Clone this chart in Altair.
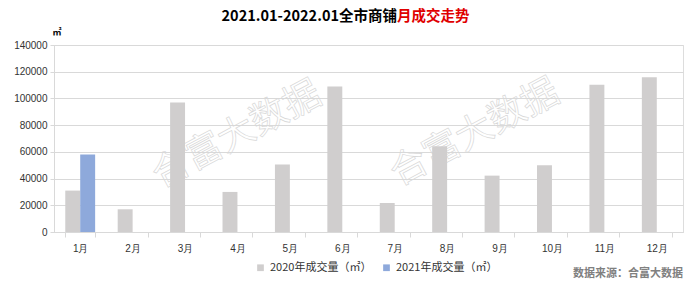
import altair as alt
import pandas as pd

months = ["1月", "2月", "3月", "4月", "5月", "6月", "7月", "8月", "9月", "10月", "11月", "12月"]
series_names = ["2020年成交量（㎡）", "2021年成交量（㎡）"]
values_2020 = [31000, 17000, 97000, 30000, 50500, 109000, 21700, 64200, 42200, 49900, 110300, 115800]
values_2021 = [58000]  # only January available
y_ticks = [0, 20000, 40000, 60000, 80000, 100000, 120000, 140000]

title_black = "2021.01-2022.01全市商铺"
title_red = "月成交走势"
unit_label = "㎡"
source_text = "数据来源：合富大数据"
watermark = "合富大数据"

rows = []
for m, v in zip(months, values_2020):
    rows.append({"month": m, "series": series_names[0], "value": v})
for m, v in zip(months, values_2021):
    rows.append({"month": m, "series": series_names[1], "value": v})
df = pd.DataFrame(rows)

FONT = "Noto Sans CJK SC"
W, H = 629, 187

bars = alt.Chart(df).mark_bar().encode(
    x=alt.X("month:N", sort=months,
            scale=alt.Scale(paddingInner=0.43, paddingOuter=0.215),
            axis=alt.Axis(title=None, labelAngle=0, tickBand="extent", tickSize=5,
                          tickColor="#D9D9D9", domainColor="#D9D9D9", labelPadding=6,
                          labelFontSize=10, labelColor="#333333", grid=False)),
    xOffset=alt.XOffset("series:N", scale=alt.Scale(domain=series_names)),
    y=alt.Y("value:Q", scale=alt.Scale(domain=[0, 140000], nice=False),
            axis=alt.Axis(title=None, values=y_ticks, format="d", grid=True,
                          gridColor="#D9D9D9", domainColor="#D9D9D9", tickColor="#D9D9D9",
                          tickSize=4, labelPadding=3, labelFontSize=10, labelColor="#333333")),
    color=alt.Color("series:N", scale=alt.Scale(domain=series_names, range=["#D0CECE", "#8EA9DB"]),
                    legend=alt.Legend(title=None, orient="none", direction="horizontal",
                                      legendX=201, legendY=217, symbolType="square",
                                      symbolSize=45, symbolStrokeWidth=0,
                                      labelFontSize=11, labelColor="#333333",
                                      columnPadding=9, labelFont=FONT)),
)

one = pd.DataFrame({"k": [0]})

def txt(text, x, y, **kw):
    return alt.Chart(one).mark_text(text=text, font=FONT, **kw).encode(
        x=alt.value(x), y=alt.value(y))

wm1 = txt(watermark, 183, 90, fontSize=37, angle=332, fill="white", fillOpacity=0,
          stroke="#D8D8D8", strokeWidth=0.7, align="center", baseline="middle")
wm2 = txt(watermark, 421, 88, fontSize=37, angle=332, fill="white", fillOpacity=0,
          stroke="#D8D8D8", strokeWidth=0.7, align="center", baseline="middle")
t1 = txt(title_black, 343, -28, fontSize=14.5, fontWeight="bold", color="#000000",
         align="right", baseline="middle")
t2 = txt(title_red, 343, -28, fontSize=14.5, fontWeight="bold", color="#E00000",
         align="left", baseline="middle")
unit = txt(unit_label, 3, -13, fontSize=9, fontWeight="bold", color="#000000",
           align="center", baseline="middle")
src = txt(source_text, W, 229, fontSize=11, fontWeight="bold", color="#808080",
          align="right", baseline="middle")

chart = alt.layer(wm1, wm2, bars, t1, t2, unit, src).properties(
    width=W, height=H,
    autosize=alt.AutoSizeParams(type="none"),
    padding={"left": 54, "top": 45, "right": 17, "bottom": 54},
).configure_view(stroke=None).configure_axis(labelFont=FONT).configure(background="white")

chart.save("out.html", embed_options={"renderer": "svg", "actions": False})
